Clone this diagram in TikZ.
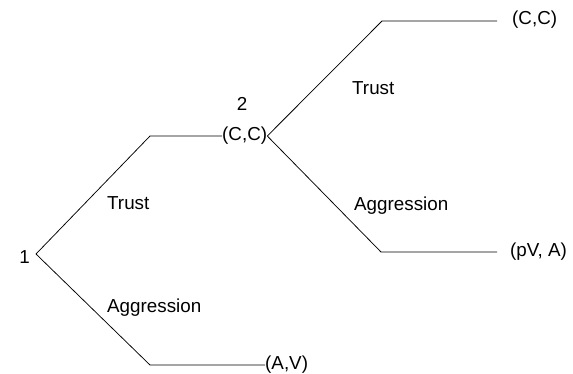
\documentclass[tikz,border=0pt]{standalone}
\usepackage{fontspec}
\setmainfont{Liberation Sans}
\begin{document}
\begin{tikzpicture}[x=1pt,y=-1pt,
  branch/.style={draw=black,line width=0.75pt},
  lbl/.style={inner sep=0pt,font=\fontsize{18.8}{21}\selectfont},
  payoff/.style={lbl,anchor=west}]
\useasboundingbox (0,0) rectangle (573,374);
% nodes
\coordinate (n1) at (36,254);
\node[lbl,anchor=base east] (one) at (30,264) {1};
\coordinate (u1) at (150,136);
\coordinate (l1) at (150,365);
\node[payoff] (cc) at (222,136) {(C,C)};
\node[lbl,anchor=base] (two) at (242,111) {2};
\node[payoff] (av) at (265,365) {(A,V)};
\coordinate (u2) at (382,21);
\coordinate (e1) at (497,21);
\coordinate (l2) at (381,252);
\coordinate (e2) at (497,252);
\node[payoff] (ccend) at (512,20) {(C,C)};
\node[payoff] (pva) at (510,252) {(pV, A)};
% branch labels
\node[lbl,anchor=base west] (t1) at (107,210) {Trust};
\node[lbl,anchor=base west] (a1) at (107,312) {Aggression};
\node[lbl,anchor=base west] (t2) at (352,95) {Trust};
\node[lbl,anchor=base west] (a2) at (354,211) {Aggression};
% branches
\draw[branch] (n1) -- (u1) -- (cc.west);
\draw[branch] (n1) -- (l1) -- (av.west);
\draw[branch] (cc.east) -- (u2) -- (e1);
\draw[branch] (cc.east) -- (l2) -- (e2);
\end{tikzpicture}
\end{document}
